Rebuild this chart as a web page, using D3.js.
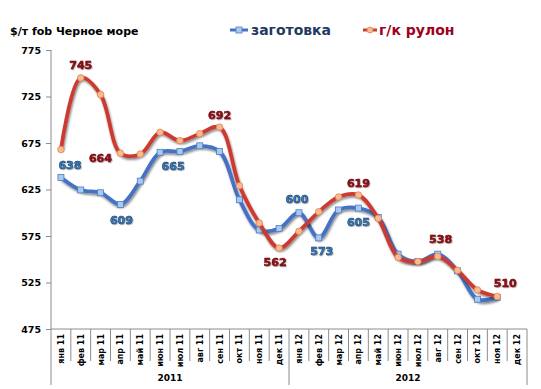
<!DOCTYPE html>
<html>
<head>
<meta charset="utf-8">
<script src="https://cdn.jsdelivr.net/npm/d3@7"></script>
<style>
  body { margin: 0; background: #fff; }
  svg { display: block; font-family: "DejaVu Sans", Verdana, sans-serif; }
</style>
</head>
<body>
<div id="chart"></div>
<script>
// months on the category axis
var months = ["янв 11", "фев 11", "мар 11", "апр 11", "май 11", "июн 11", "июл 11", "авг 11", "сен 11", "окт 11", "ноя 11", "дек 11",
              "янв 12", "фев 12", "мар 12", "апр 12", "май 12", "июн 12", "июл 12", "авг 12", "сен 12", "окт 12", "ноя 12", "дек 12"];
var years = ["2011", "2012"];
// заготовка (billet), $/t
var billet = [638, 624.5, 621.5, 609, 634, 665, 666, 672, 666, 614, 581.5, 583,
              600, 573, 603, 605, 595, 555.5, 547.5, 555.5, 537.5, 507, 509, null];
// г/к рулон (HRC), $/t
var coil = [668, 745, 727, 664, 663, 686.5, 677.5, 685, 692, 629, 589, 562,
            580, 601, 617, 619, 594, 552, 547.5, 553, 538, 517, 510, null];
var yTicks = [475, 525, 575, 625, 675, 725, 775];
// which points carry a value label
var billetLabeled = [0, 3, 5, 12, 13, 15];
var coilLabeled = [1, 3, 8, 11, 15, 20, 22];

var width = 541, height = 389;
var plotLeft = 51, plotRight = 527, plotTop = 50, plotBottom = 329;

var svg = d3.select("#chart").append("svg")
    .attr("width", width)
    .attr("height", height);

var defs = svg.append("defs");
var f = defs.append("filter").attr("id", "shadow")
    .attr("x", "-5%").attr("y", "-10%").attr("width", "110%").attr("height", "130%");
f.append("feDropShadow").attr("dx", 1).attr("dy", 2).attr("stdDeviation", 1.2)
    .attr("flood-color", "#000").attr("flood-opacity", 0.45);
var tf = defs.append("filter").attr("id", "tshadow");
tf.append("feDropShadow").attr("dx", 0.8).attr("dy", 0.8).attr("stdDeviation", 0.4)
    .attr("flood-color", "#000").attr("flood-opacity", 0.35);

var x = d3.scaleBand().domain(months).range([plotLeft, plotRight]);
var y = d3.scaleLinear().domain([475, 775]).range([plotBottom, plotTop]);

// title
svg.append("text")
    .attr("x", 10).attr("y", 35)
    .attr("font-size", 11).attr("font-weight", "bold").attr("fill", "#000")
    .text("$/т fob Черное море");

// y axis
var yAxis = svg.append("g").attr("transform", "translate(" + plotLeft + ",0)")
    .call(d3.axisLeft(y).tickValues(yTicks).tickSize(5).tickPadding(5));
yAxis.select(".domain").attr("stroke", "#8c8c8c").attr("d", "M0," + plotTop + "V" + (plotBottom + 56));
yAxis.selectAll(".tick line").attr("stroke", "#8c8c8c");
yAxis.selectAll(".tick text")
    .attr("font-family", "DejaVu Sans, sans-serif")
    .attr("font-size", 9.5).attr("font-weight", "bold").attr("fill", "#000");

// x axis: month labels rotated, separators between bands
var xg = svg.append("g");
xg.append("line")
    .attr("x1", plotLeft).attr("x2", plotRight).attr("y1", plotBottom).attr("y2", plotBottom)
    .attr("stroke", "#8c8c8c");
xg.selectAll(".sep").data(months.slice(1).concat([null]))
    .enter().append("line")
    .attr("class", "sep")
    .attr("x1", function (d) { return d ? x(d) : plotRight; })
    .attr("x2", function (d) { return d ? x(d) : plotRight; })
    .attr("y1", plotBottom)
    .attr("y2", function (d, i) { return (i === 11 || i === 23) ? plotBottom + 56 : plotBottom + 32; })
    .attr("stroke", "#8c8c8c");
xg.selectAll(".mlab").data(months)
    .enter().append("text")
    .attr("class", "mlab")
    .attr("transform", function (d) {
        return "translate(" + (x(d) + x.bandwidth() / 2 + 3) + "," + (plotBottom + 5) + ") rotate(-90)";
    })
    .attr("text-anchor", "end")
    .attr("font-size", 8).attr("font-weight", "bold").attr("fill", "#000")
    .text(function (d) { return d; });
xg.selectAll(".ylab").data(years)
    .enter().append("text")
    .attr("class", "ylab")
    .attr("x", function (d, i) { return (x(months[i * 12]) + x(months[i * 12 + 11]) + x.bandwidth()) / 2; })
    .attr("y", plotBottom + 52)
    .attr("text-anchor", "middle")
    .attr("font-size", 9).attr("font-weight", "bold").attr("fill", "#000")
    .text(function (d) { return d; });

function cx(i) { return x(months[i]) + x.bandwidth() / 2; }

var line = d3.line()
    .defined(function (d) { return d != null; })
    .x(function (d, i) { return cx(i); })
    .y(function (d) { return y(d); })
    .curve(d3.curveCatmullRom.alpha(0.5));

var series = [
    { name: "заготовка", values: billet, color: "#4472c4", mfill: "#a9c9ef", mstroke: "#4a7cc8", marker: "square",
      labeled: billetLabeled, lcolor: "#3a7dc2", lstroke: "#12365e" },
    { name: "г/к рулон", values: coil, color: "#cc3a33", mfill: "#f9bb8c", mstroke: "#e0805a", marker: "circle",
      labeled: coilLabeled, lcolor: "#8e0a12", lstroke: "#6e0810" }
];

series.forEach(function (s) {
    var g = svg.append("g");
    g.append("path")
        .datum(s.values)
        .attr("d", line)
        .attr("fill", "none")
        .attr("stroke", s.color)
        .attr("stroke-width", 3.8)
        .attr("filter", "url(#shadow)");
    var pts = s.values.map(function (v, i) { return { v: v, i: i }; })
        .filter(function (d) { return d.v != null; });
    if (s.marker === "square") {
        g.selectAll("rect").data(pts).enter().append("rect")
            .attr("x", function (d) { return cx(d.i) - 3; })
            .attr("y", function (d) { return y(d.v) - 3; })
            .attr("width", 6).attr("height", 6)
            .attr("fill", s.mfill).attr("stroke", s.mstroke).attr("stroke-width", 0.8);
    } else {
        g.selectAll("circle").data(pts).enter().append("circle")
            .attr("cx", function (d) { return cx(d.i); })
            .attr("cy", function (d) { return y(d.v); })
            .attr("r", 3.3)
            .attr("fill", s.mfill).attr("stroke", s.mstroke).attr("stroke-width", 0.8);
    }
});

// value labels, nudged the way the original places them
var offsets = {
    "заготовка": { 0: [9, -12], 3: [1, 16], 5: [13, 14], 12: [-2, -14], 13: [3, 13], 15: [0, 13.5] },
    "г/к рулон": { 1: [0, -13], 3: [-20, 4.5], 8: [0, -12], 11: [-4, 13.5], 15: [0, -12.5], 20: [-17, -31], 22: [8, -13.5] }
};
series.forEach(function (s) {
    svg.append("g").selectAll("text").data(s.labeled).enter().append("text")
        .attr("x", function (i) { return cx(i) + offsets[s.name][i][0]; })
        .attr("y", function (i) { return y(s.values[i]) + offsets[s.name][i][1]; })
        .attr("dy", "0.36em")
        .attr("text-anchor", "middle")
        .attr("font-size", 11).attr("font-weight", "bold")
        .attr("fill", s.lcolor)
        .attr("stroke", s.lstroke).attr("stroke-width", 0.5)
        .attr("filter", "url(#tshadow)")
        .text(function (i) { return Math.round(s.values[i]); });
});

// legend
var legend = svg.append("g");
var lx = [230, 363];
series.forEach(function (s, k) {
    var g = legend.append("g").attr("transform", "translate(" + lx[k] + ",30)");
    g.append("line").attr("x1", 0).attr("x2", k === 0 ? 18 : 14).attr("y1", 0).attr("y2", 0)
        .attr("stroke", s.color).attr("stroke-width", 3);
    if (s.marker === "square") {
        g.append("rect").attr("x", 6).attr("y", -3).attr("width", 6).attr("height", 6)
            .attr("fill", s.mfill).attr("stroke", s.mstroke).attr("stroke-width", 0.8);
    } else {
        g.append("circle").attr("cx", 7).attr("cy", 0).attr("r", 3)
            .attr("fill", s.mfill).attr("stroke", s.mstroke).attr("stroke-width", 0.8);
    }
    g.append("text")
        .attr("x", k === 0 ? 21 : 16).attr("y", 0).attr("dy", "0.35em")
        .attr("font-size", 14).attr("font-weight", "bold")
        .attr("fill", k === 0 ? "#1f3a60" : "#a0001c")
        .text(s.name);
});
</script>
</body>
</html>
